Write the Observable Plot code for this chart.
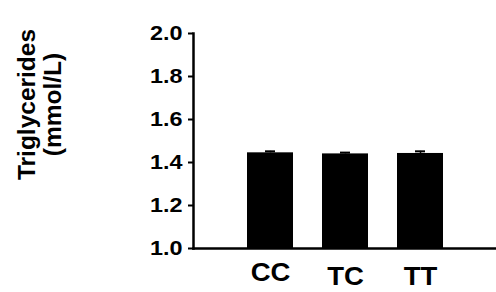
<!DOCTYPE html>
<html>
<head>
<meta charset="utf-8">
<script src="https://cdn.jsdelivr.net/npm/d3@7"></script>
<script src="https://cdn.jsdelivr.net/npm/@observablehq/plot@0.6"></script>
<style>
  html, body { margin: 0; padding: 0; background: #fff; }
  #chart svg { display: block; font-family: Arial, "Liberation Sans", sans-serif; }
</style>
</head>
<body>
<div id="chart"></div>
<script>
const genotypes = ["CC", "TC", "TT"];
const means = [1.445, 1.440, 1.442];
const errors = [0.007, 0.006, 0.010];
const yTicks = [1.0, 1.2, 1.4, 1.6, 1.8, 2.0];
const yTitle = "Triglycerides\n(mmol/L)";

const data = genotypes.map((g, i) => ({g, v: means[i], e: errors[i]}));

const chart = Plot.plot({
  width: 496,
  height: 292,
  marginLeft: 193,
  marginRight: 0,
  marginTop: 33,
  marginBottom: 44,
  style: {fontFamily: "Arial, 'Liberation Sans', sans-serif", color: "#000", background: "#fff"},
  x: {domain: genotypes, paddingInner: 0.39, paddingOuter: 0.70, axis: null},
  y: {domain: [1, 2], label: null},
  marks: [
    Plot.barY(data, {x: "g", y1: 1, y2: "v", fill: "#000"}),
    Plot.ruleX(data, {x: "g", y1: "v", y2: d => d.v + d.e, stroke: "#000", strokeWidth: 1.5}),
    Plot.tickY(data, {x: "g", y: d => d.v + d.e, stroke: "#000", strokeWidth: 2, insetLeft: 18, insetRight: 18}),
    Plot.axisY({ticks: yTicks, tickFormat: d3.format(".1f"), tickSize: 5, tickPadding: 6, fontSize: 19.5, fontWeight: "bold", strokeWidth: 2}),
    Plot.text(data.filter(d => d.g === "CC"), {x: "g", text: "g", frameAnchor: "bottom", lineAnchor: "top", dy: 15, fontSize: 25, fontWeight: "bold", fill: "#000", className: "xlab"}),
    Plot.text(data.filter(d => d.g !== "CC"), {x: "g", text: "g", frameAnchor: "bottom", lineAnchor: "top", dy: 19, fontSize: 25, fontWeight: "bold", fill: "#000", className: "xlab"}),
    Plot.frame({anchor: "left", strokeWidth: 2.5}),
    Plot.frame({anchor: "bottom", strokeWidth: 2.5}),
    Plot.text([yTitle], {frameAnchor: "left", rotate: -90, dx: -154, dy: -36.5, fontSize: 24.5, fontWeight: "bold", lineHeight: 1.07, textAnchor: "middle", fill: "#000"})
  ]
});
document.getElementById("chart").appendChild(chart);

// widen glyphs slightly, as in the reference artwork
function stretch(sel, f) {
  d3.select(chart).selectAll(sel).each(function() {
    const w = this.getComputedTextLength();
    this.setAttribute("textLength", w * f);
    this.setAttribute("lengthAdjust", "spacingAndGlyphs");
  });
}
stretch('g[aria-label="y-axis tick label"] text', 1.2);
stretch('g.xlab text', 1.1);
</script>
</body>
</html>
